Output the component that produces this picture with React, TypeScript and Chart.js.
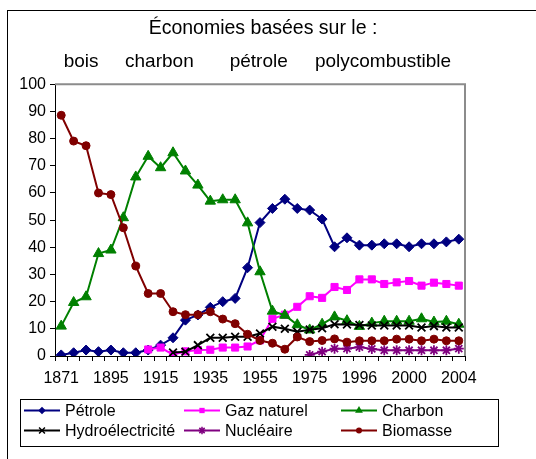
import React, { useEffect, useLayoutEffect, useRef } from 'react';
import { Chart, registerables } from 'chart.js';

Chart.register(...registerables);

// ---- data ----
const categories = [
  '1871', '1880', '1885', '1890', '1895', '1900', '1905', '1910', '1915', '1920', '1925',
  '1930', '1935', '1940', '1945', '1950', '1955', '1960', '1965', '1970', '1975', '1980',
  '1985', '1990', '1996', '1997', '1998', '1999', '2000', '2001', '2002', '2003', '2004',
];
const tickLabels = ['1871', '1895', '1915', '1935', '1955', '1975', '1996', '2000', '2004'];

const petrole = [0.4, 1.2, 2.2, 1.6, 2.2, 1.2, 1.2, 2.2, 4.0, 6.7, 13.2, 15.1, 17.9, 20.0, 21.2, 32.5, 49.1, 54.3, 57.7, 54.3, 53.7, 50.4, 40.2, 43.5, 40.8, 40.8, 41.3, 41.3, 40.2, 41.3, 41.3, 42.0, 43.0];
const gazNaturel = [null, null, null, null, null, null, null, 2.4, 3.1, 0.5, 1.7, 2.2, 2.3, 3.1, 3.1, 3.5, 5.8, 13.7, 15.2, 18.1, 22.0, 21.4, 25.4, 24.3, 28.2, 28.2, 26.5, 27.1, 27.6, 25.9, 27.0, 26.5, 25.9];
const charbon = [11.0, 19.7, 21.8, 37.7, 39.0, 50.9, 65.9, 73.5, 69.3, 74.8, 68.1, 62.9, 57.0, 57.5, 57.5, 49.0, 31.0, 16.5, 15.0, 11.5, 9.6, 11.7, 14.4, 13.0, 10.9, 12.1, 12.8, 12.8, 12.8, 13.7, 12.5, 12.8, 11.7];
const hydro = [null, null, null, null, null, null, null, null, null, 1.3, 1.6, 4.0, 6.7, 6.7, 7.1, 7.1, 8.3, 10.8, 10.0, 8.9, 9.7, 10.2, 11.7, 11.6, 11.4, 11.2, 11.2, 11.2, 11.2, 10.5, 11.0, 10.5, 10.5];
const nucleaire = [null, null, null, null, null, null, null, null, null, null, null, null, null, null, null, null, null, null, null, null, 0.4, 1.6, 2.7, 2.7, 3.3, 2.6, 2.1, 2.1, 2.1, 2.1, 2.1, 2.1, 2.7];
const biomasse = [88.6, 79.1, 77.4, 60.0, 59.4, 47.2, 33.1, 23.0, 23.0, 16.3, 15.2, 15.2, 16.3, 13.6, 11.9, 8.0, 5.7, 4.7, 2.5, 7.0, 5.3, 5.7, 6.3, 5.1, 5.6, 5.6, 5.6, 6.2, 6.2, 5.6, 6.2, 5.6, 5.6];

const seriesNames = ['Pétrole', 'Gaz naturel', 'Charbon', 'Hydroélectricité', 'Nucléaire', 'Biomasse'];
const seriesData = [petrole, gazNaturel, charbon, hydro, nucleaire, biomasse];
const seriesColors = ['#000080', '#FF00FF', '#008000', '#000000', '#800080', '#800000'];
const seriesMarkers = ['rectRot', 'rect', 'triangle', 'crossRot', 'star', 'circle'];
const seriesRadius = [5, 5, 6, 5.5, 5, 4];

const titleText = 'Économies basées sur le :';
const eraLabels = ['bois', 'charbon', 'pétrole', 'polycombustible'];
const eraPositions = [1.6, 7.9, 15.9, 25.9];

const FONT = "'Liberation Sans', Arial, Helvetica, sans-serif";

function drawMarker(ctx: CanvasRenderingContext2D, style: string, x: number, y: number, r: number, color: string) {
  ctx.save();
  ctx.fillStyle = color;
  ctx.strokeStyle = color;
  ctx.lineWidth = 1.5;
  ctx.beginPath();
  if (style === 'rectRot') {
    ctx.moveTo(x, y - r); ctx.lineTo(x + r, y); ctx.lineTo(x, y + r); ctx.lineTo(x - r, y); ctx.closePath();
    ctx.fill();
  } else if (style === 'rect') {
    const s = r * Math.SQRT1_2;
    ctx.rect(x - s, y - s, 2 * s, 2 * s); ctx.fill();
  } else if (style === 'triangle') {
    let a = 0;
    ctx.moveTo(x + Math.sin(a) * r, y - Math.cos(a) * r);
    a += (2 * Math.PI) / 3;
    ctx.lineTo(x + Math.sin(a) * r, y - Math.cos(a) * r);
    a += (2 * Math.PI) / 3;
    ctx.lineTo(x + Math.sin(a) * r, y - Math.cos(a) * r);
    ctx.closePath(); ctx.fill();
  } else if (style === 'crossRot') {
    const d = r * Math.SQRT1_2;
    ctx.moveTo(x - d, y - d); ctx.lineTo(x + d, y + d);
    ctx.moveTo(x - d, y + d); ctx.lineTo(x + d, y - d);
    ctx.stroke();
  } else if (style === 'star') {
    const d = r * Math.SQRT1_2;
    ctx.moveTo(x - d, y - d); ctx.lineTo(x + d, y + d);
    ctx.moveTo(x - d, y + d); ctx.lineTo(x + d, y - d);
    ctx.moveTo(x, y - r); ctx.lineTo(x, y + r);
    ctx.moveTo(x - r, y); ctx.lineTo(x + r, y);
    ctx.stroke();
  } else {
    ctx.arc(x, y, r, 0, Math.PI * 2); ctx.fill();
  }
  ctx.restore();
}

const frameAreaPlugin = {
  id: 'frameArea',
  beforeDatasetsDraw(chart: any) {
    const { ctx, chartArea } = chart;
    ctx.save();
    ctx.strokeStyle = '#8c8c8c';
    ctx.lineWidth = 2;
    ctx.beginPath();
    ctx.moveTo(chartArea.left, chartArea.top);
    ctx.lineTo(chartArea.right, chartArea.top);
    ctx.lineTo(chartArea.right, chartArea.bottom);
    ctx.stroke();
    ctx.restore();
  },
};

const eraPlugin = {
  id: 'eras',
  afterDraw(chart: any) {
    const { ctx } = chart;
    const xs = chart.scales.x;
    ctx.save();
    ctx.fillStyle = '#000';
    ctx.font = `19px ${FONT}`;
    ctx.textAlign = 'center';
    ctx.textBaseline = 'middle';
    eraLabels.forEach((t, i) => {
      ctx.fillText(t, xs.getPixelForValue(eraPositions[i]), 50.5);
    });
    ctx.restore();
  },
};

const boxLegendPlugin = {
  id: 'boxLegend',
  afterDraw(chart: any) {
    const { ctx } = chart;
    ctx.save();
    ctx.strokeStyle = '#000';
    ctx.lineWidth = 1;
    ctx.strokeRect(12.5, 388.5, 478, 47);
    const colX = [16, 176, 333];
    const rowY = [399.5, 419.5];
    ctx.font = `16px ${FONT}`;
    ctx.textBaseline = 'middle';
    ctx.textAlign = 'left';
    seriesNames.forEach((name, i) => {
      const x = colX[i % 3];
      const y = rowY[Math.floor(i / 3)];
      ctx.strokeStyle = seriesColors[i];
      ctx.lineWidth = 2;
      ctx.beginPath();
      ctx.moveTo(x, y);
      ctx.lineTo(x + 36, y);
      ctx.stroke();
      drawMarker(ctx, seriesMarkers[i], x + 18, y, seriesRadius[i] * 0.75, seriesColors[i]);
      ctx.fillStyle = '#000';
      ctx.fillText(name, x + 41, y + 1);
    });
    ctx.restore();
  },
};

export default function App() {
  const canvasRef = useRef<HTMLCanvasElement | null>(null);

  useLayoutEffect(() => {
    document.documentElement.style.overflow = 'hidden';
    document.body.style.overflow = 'hidden';
    document.body.style.margin = '0';
  }, []);

  useEffect(() => {
    const canvas = canvasRef.current;
    if (!canvas) return;
    const chart = new Chart(canvas, {
      type: 'line',
      data: {
        labels: categories,
        datasets: seriesNames.map((name, i) => ({
          label: name,
          data: seriesData[i],
          borderColor: seriesColors[i],
          backgroundColor: seriesColors[i],
          pointBackgroundColor: seriesColors[i],
          pointBorderColor: seriesColors[i],
          pointStyle: seriesMarkers[i],
          pointRadius: seriesRadius[i],
          pointBorderWidth: i === 3 || i === 4 ? 1.8 : 1,
          borderWidth: 2,
          tension: 0,
          spanGaps: false,
          order: 5 - i,
          yAxisID: 'y',
        })),
      },
      options: {
        responsive: false,
        animation: false,
        devicePixelRatio: 1,
        layout: { padding: { left: 0, right: 10, top: 0, bottom: 0 } },
        plugins: {
          legend: { display: false },
          tooltip: { enabled: false },
          title: {
            display: true,
            text: titleText,
            color: '#000',
            font: { family: FONT, size: 19.5, weight: 'normal' },
            padding: { top: 5.6, bottom: 44.3 },
          },
        },
        scales: {
          x: {
            type: 'category',
            offset: true,
            afterFit: (s: any) => { s.height = 95; },
            grid: {
              offset: true,
              drawOnChartArea: false,
              drawTicks: true,
              tickLength: 5,
              tickColor: '#000',
              tickWidth: 1,
            },
            border: { display: true, color: '#000', width: 1 },
            ticks: {
              autoSkip: false,
              maxRotation: 0,
              minRotation: 0,
              padding: 8,
              color: '#000',
              font: { family: FONT, size: 16 },
              callback: (_v: any, idx: number) => (idx % 4 === 0 ? tickLabels[idx / 4] : ''),
            },
          },
          y: {
            min: 0,
            max: 100,
            afterFit: (s: any) => { s.width = 47; },
            grid: {
              drawOnChartArea: false,
              drawTicks: true,
              tickLength: 5,
              tickColor: '#000',
              tickWidth: 1,
            },
            border: { display: true, color: '#000', width: 1 },
            ticks: {
              stepSize: 10,
              padding: 4,
              color: '#000',
              font: { family: FONT, size: 16 },
            },
          },
          y2: {
            position: 'right',
            display: true,
            afterFit: (s: any) => { s.width = 53; },
            grid: { display: false, drawTicks: false },
            border: { display: false },
            ticks: { display: false },
          },
        },
      },
      plugins: [frameAreaPlugin, eraPlugin, boxLegendPlugin],
    } as any);
    return () => chart.destroy();
  }, []);

  return (
    <div
      style={{
        width: 536,
        height: 459,
        paddingLeft: 7,
        paddingTop: 10,
        boxSizing: 'border-box',
        overflow: 'hidden',
        background: '#fff',
      }}
    >
      <div
        style={{
          width: 529,
          height: 449,
          borderLeft: '1px solid #000',
          borderTop: '1px solid #000',
        }}
      >
        <canvas ref={canvasRef} width={520} height={440} style={{ display: 'block', width: 520, height: 440 }} />
      </div>
    </div>
  );
}
